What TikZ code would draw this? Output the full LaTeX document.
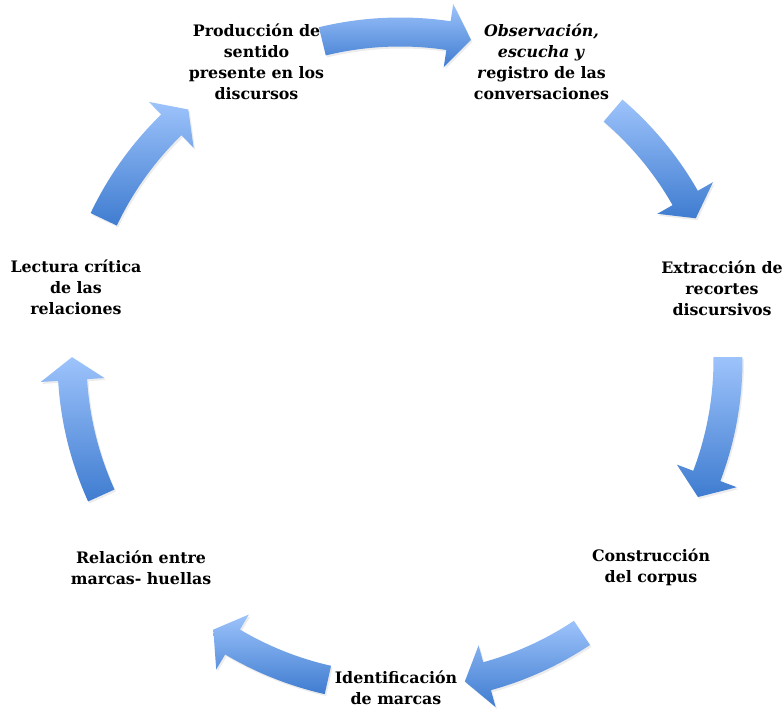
\documentclass[tikz,border=0pt]{standalone}
\usepackage{fontspec}
\setmainfont{DejaVu Serif}
\usetikzlibrary{shadows}

\definecolor{azulclaro}{RGB}{157,195,251}
\definecolor{azuloscuro}{RGB}{63,124,208}

\tikzstyle{texto} = [align=center, inner sep=0pt, font=\fontsize{9}{12}\selectfont\bfseries]
\tikzstyle{flechabloque} = [top color=azulclaro, bottom color=azuloscuro, drop shadow={opacity=0.15, shadow xshift=0.03, shadow yshift=-0.04}]

% flecha curva sobre el circulo: #1 angulo de la cola, #2 angulo de la punta
\newcommand{\flecha}[2]{%
	\pgfmathsetmacro{\base}{#2+4}
	\shade[flechabloque, shift={(centro)}] (#1:6.85) arc[start angle=#1, end angle=\base, radius=6.85]
		-- (\base:7.2) -- (#2:6.56) -- (\base:5.92) -- (\base:6.27)
		arc[start angle=\base, end angle=#1, radius=6.27] -- cycle;
}

\begin{document}
\begin{tikzpicture}
		\useasboundingbox (0,0) rectangle (15.66,14.18);
		\coordinate (centro) at (8,6.98);
		% Etapas
		\node[texto] (produccion) at (5.13,12.94) {Producción de\\sentido\\presente en los\\discursos};
		\node[texto] (observacion) at (10.83,12.94) {\textit{Observación,}\\\textit{escucha y}\\\textit{r}egistro de las\\conversaciones};
		\node[texto] (extraccion) at (14.44,8.42) {Extracción de\\recortes\\discursivos};
		\node[texto] (construccion) at (13.02,2.84) {Construcción\\del corpus};
		\node[texto, anchor=south] (identificacion) at (7.92,0.08) {Identificación\\de marcas};
		\node[texto] (relacion) at (2.82,2.82) {Relación entre\\marcas- huellas};
		\node[texto] (lectura) at (1.52,8.44) {Lectura crítica\\de las\\relaciones};
		% Flechas
		\flecha{103.7}{77.5}
		\flecha{49.5}{25.6}
		\flecha{0.5}{-24.7}
		\flecha{-56.3}{-78.6}
		\flecha{-102.7}{-124.7}
		\flecha{204.4}{179.5}
		\flecha{154.6}{130.2}
\end{tikzpicture}
\end{document}
